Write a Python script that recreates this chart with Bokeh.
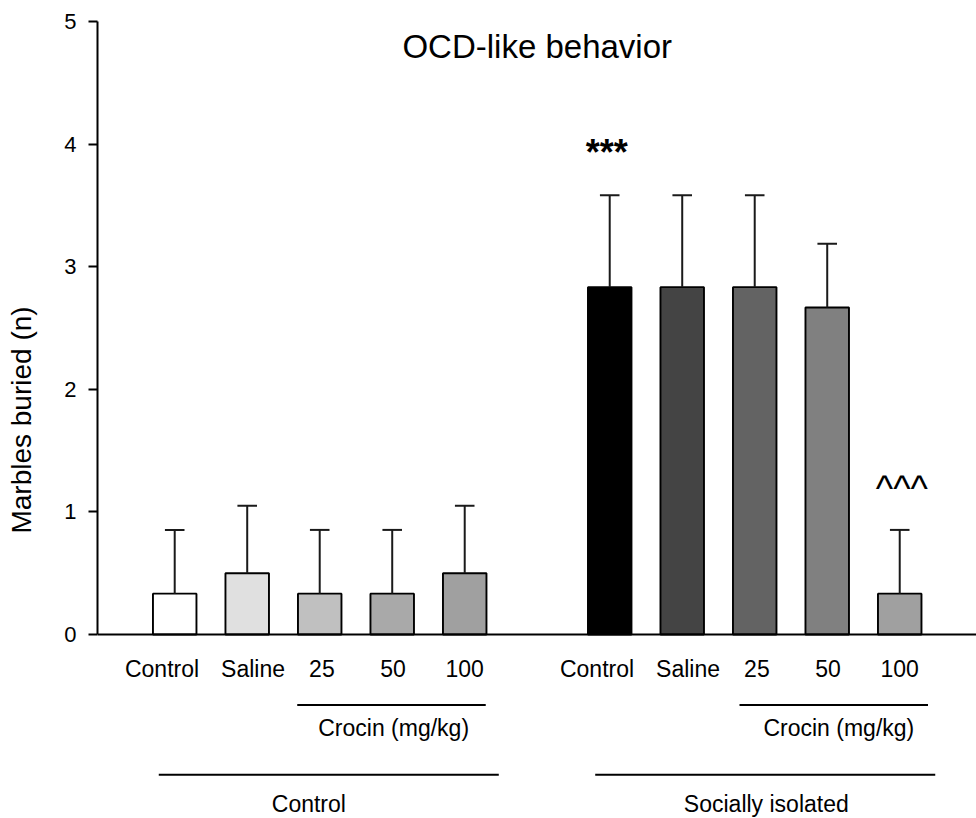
from bokeh.plotting import figure
from bokeh.models import Range1d, Span, FixedTicker, Label
from bokeh.core.properties import value
from bokeh.embed import file_html
from bokeh.resources import INLINE

# Marble burying test: mean number of marbles buried (+ SEM)
treatments = ["Control", "Saline", "25", "50", "100"]
control_means = [0.333, 0.5, 0.333, 0.333, 0.5]
control_sem = [0.52, 0.55, 0.52, 0.52, 0.55]
isolated_means = [2.833, 2.833, 2.833, 2.667, 0.333]
isolated_sem = [0.75, 0.75, 0.75, 0.52, 0.52]
group_names = ["Control", "Socially isolated"]
dose_label = "Crocin (mg/kg)"
y_ticks = [0, 1, 2, 3, 4, 5]
sig_isolated_vs_control = "***"
sig_crocin_vs_isolated = "^^^"

FONT = "Liberation Sans"
control_colors = ["#ffffff", "#e0e0e0", "#c0c0c0", "#a9a9a9", "#a0a0a0"]
isolated_colors = ["#000000", "#444444", "#636363", "#808080", "#a0a0a0"]

# two groups of five bar slots separated by an empty slot
x_control = [0, 1, 2, 3, 4]
x_isolated = [6, 7, 8, 9, 10]
label_shift = [-0.175, 0.08, 0.03, 0.01, 0.0]

xs = x_control + x_isolated
means = control_means + isolated_means
sems = control_sem + isolated_sem
colors = control_colors + isolated_colors
uppers = [m + s for m, s in zip(means, sems)]

p = figure(width=976, height=818, output_backend="svg", toolbar_location=None,
           x_range=Range1d(-1.065, 11.059), y_range=Range1d(-1.501, 5),
           x_axis_location=None, min_border_left=97, min_border_top=21,
           min_border_bottom=0, min_border_right=0)
p.grid.visible = False
p.outline_line_color = None
p.background_fill_color = "white"

# bars
p.vbar(x=xs, top=means, bottom=0, width=0.6, fill_color=colors,
       line_color="black", line_width=1.9)

# upper error bars
cap = 0.135
p.segment(x0=xs, y0=means, x1=xs, y1=uppers, line_color="#1a1a1a", line_width=2)
p.segment(x0=[x - cap for x in xs], y0=uppers, x1=[x + cap for x in xs], y1=uppers,
          line_color="#1a1a1a", line_width=2)

# baseline
p.add_layout(Span(location=0, dimension="width", line_color="black", line_width=2))

# y axis
ax = p.yaxis[0]
ax.bounds = (0, 5)
ax.ticker = FixedTicker(ticks=y_ticks)
ax.minor_tick_line_color = None
ax.major_tick_in = 0
ax.major_tick_out = 9
ax.axis_line_width = 2
ax.major_tick_line_width = 2
ax.major_label_text_font = FONT
ax.major_label_text_font_size = "22px"
ax.major_label_text_color = "black"
ax.major_label_standoff = 12
ax.axis_label = "Marbles buried (n)"
ax.axis_label_text_font = FONT
ax.axis_label_text_font_size = "28px"
ax.axis_label_text_font_style = "normal"
ax.axis_label_text_color = "black"
ax.axis_label_standoff = 24

# title
p.add_layout(Label(x=5, y=4.8, text="OCD-like behavior", text_align="center",
                   text_baseline="middle", text_font=FONT, text_font_size="33px",
                   text_color="black"))

# category labels under each bar
p.text(x=[x + s for x, s in zip(xs, label_shift * 2)], y=[-0.28] * len(xs),
       text=treatments * 2, text_align="center", text_baseline="middle",
       text_font=value(FONT), text_font_size=value("23px"), text_color="black")

# dose bracket and label
p.segment(x0=[1.69, 7.79], y0=[-0.576, -0.576], x1=[4.29, 10.39], y1=[-0.576, -0.576],
          line_color="black", line_width=2)
p.text(x=[3.02, 9.16], y=[-0.76, -0.76], text=[dose_label, dose_label],
       text_align="center", text_baseline="middle",
       text_font=value(FONT), text_font_size=value("23px"), text_color="black")

# group bracket and label
p.segment(x0=[-0.22, 5.80], y0=[-1.144, -1.144], x1=[4.47, 10.49], y1=[-1.144, -1.144],
          line_color="black", line_width=2)
p.text(x=[1.85, 8.16], y=[-1.385, -1.385], text=group_names,
       text_align="center", text_baseline="middle",
       text_font=value(FONT), text_font_size=value("23px"), text_color="black")

# significance marks
p.text(x=[x_isolated[0] - 0.04], y=[3.93], text=[sig_isolated_vs_control],
       text_align="center", text_baseline="middle",
       text_font=value(FONT), text_font_size=value("36px"), text_font_style="bold",
       text_color="black")
p.text(x=[x_isolated[4] + 0.03], y=[1.19], text=[sig_crocin_vs_isolated],
       text_align="center", text_baseline="middle",
       text_font=value(FONT), text_font_size=value("37px"), text_color="black")

open("out.html", "w").write(file_html(p, INLINE))
